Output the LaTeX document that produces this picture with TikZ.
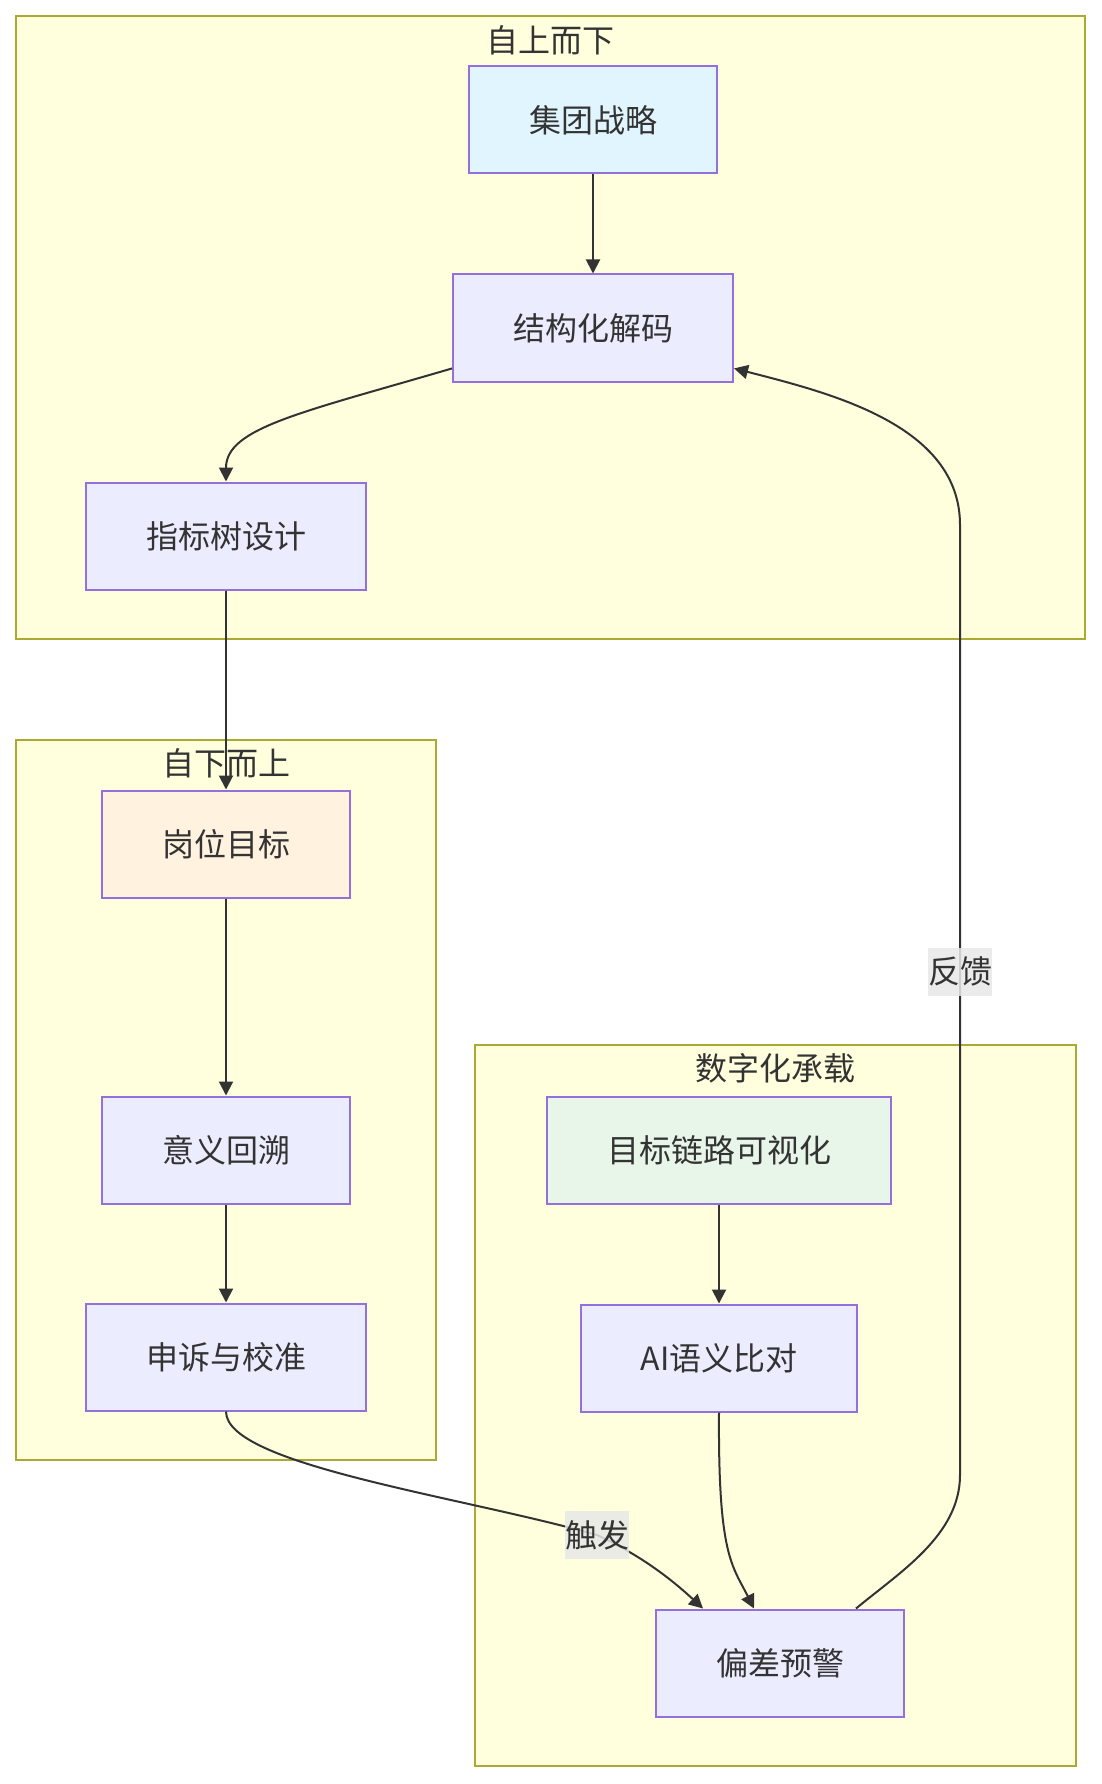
\documentclass[tikz,border=0pt]{standalone}
\usepackage{fontspec}
\setmainfont{Noto Sans CJK SC}
\usetikzlibrary{arrows.meta,positioning}

\definecolor{clfill}{HTML}{FFFFDE}
\definecolor{clline}{HTML}{AAAA33}
\definecolor{nodefill}{HTML}{ECECFF}
\definecolor{nodeline}{HTML}{9370DB}
\definecolor{stratfill}{HTML}{E1F5FE}
\definecolor{postfill}{HTML}{FFF3E0}
\definecolor{visfill}{HTML}{E8F5E9}
\definecolor{txt}{HTML}{333333}
\definecolor{lblfill}{HTML}{E8E8E8}

\begin{document}
\begin{tikzpicture}[
    x=1pt, y=-1pt,
    node distance=99pt and 195pt,
    box/.style={rectangle, draw=nodeline, fill=nodefill, line width=2pt,
                 minimum height=107pt, inner xsep=60pt, text=txt,
                 font=\fontsize{32}{38}\selectfont},
    cluster/.style={rectangle, draw=clline, fill=clfill, line width=2pt, inner sep=0pt},
    ctitle/.style={text=txt, inner sep=0pt, font=\fontsize{32}{38}\selectfont},
    elabel/.style={fill=lblfill, fill opacity=0.85, text opacity=1, text=txt,
                 inner xsep=0pt, minimum height=48pt,
                 font=\fontsize{32}{38}\selectfont},
    arr/.style={-{Triangle[length=14pt,width=14pt]}, line width=2pt, draw=txt},
  ]
  \useasboundingbox (0,0) rectangle (1101,1784);
  \fill[white] (0,0) rectangle (1101,1784);

  % subgraphs
  \node[cluster, minimum width=1069pt, minimum height=623pt] (topdown)  at (550.5,327.5) {};
  \node[cluster, minimum width=420pt,  minimum height=720pt] (bottomup) at (226,1100) {};
  \node[cluster, minimum width=601pt,  minimum height=721pt] (digital)  at (775.5,1405.5) {};
  \node[ctitle] (tdtitle) at ([yshift=-25pt]topdown.north)  {自上而下};
  \node[ctitle] (butitle) at ([yshift=-24pt]bottomup.north) {自下而上};
  \node[ctitle] (dgtitle) at ([yshift=-24pt]digital.north)  {数字化承载};

  % nodes
  \node[box, fill=stratfill] (strat) at (593,120) {集团战略};
  \node[box, below=of strat] (decode) {结构化解码};
  \node[box, below=99pt of decode, xshift=-367pt] (metric) {指标树设计};
  \node[box, fill=postfill, below=199pt of metric] (post) {岗位目标};
  \node[box, below=197pt of post] (review) {意义回溯};
  \node[box, below=98pt of review] (appeal) {申诉与校准};
  \node[box, fill=visfill, right=of review] (vis) {目标链路可视化};
  \node[box, below=of vis] (ai) {AI语义比对};
  \node[box, below=196pt of ai, xshift=61pt] (alert) {偏差预警};

  \coordinate (fbbot) at (960,1475);
  \coordinate (fbtop) at (960,525);
  \coordinate (trig) at (597,1535);

  % edges
  \draw[arr] (strat) -- (decode);
  \draw[arr] (decode.196) .. controls (300,413) and (226,428) .. (metric.north);
  \draw[arr] (metric) -- (post);
  \draw[arr] (post) -- (review);
  \draw[arr] (review) -- (appeal);
  \draw[arr] (vis) -- (ai);
  \draw[arr] (ai.south) .. controls (718,1555) and (732,1565) .. ([xshift=-26pt]alert.north);
  \draw[arr] (appeal.south) .. controls (226,1465) and (460,1496) .. (trig)
             .. controls (640,1555) and (670,1578) .. ([xshift=-77pt]alert.north);
  \draw[arr] ([xshift=76pt]alert.north) .. controls (900,1572) and (960,1535) .. (fbbot)
             -- node[elabel, pos=0.53] (fblabel) {反馈} (fbtop)
             .. controls (960,425) and (830,393) .. (decode.-16);
  \node[elabel] (triglabel) at (trig) {触发};
\end{tikzpicture}
\end{document}
